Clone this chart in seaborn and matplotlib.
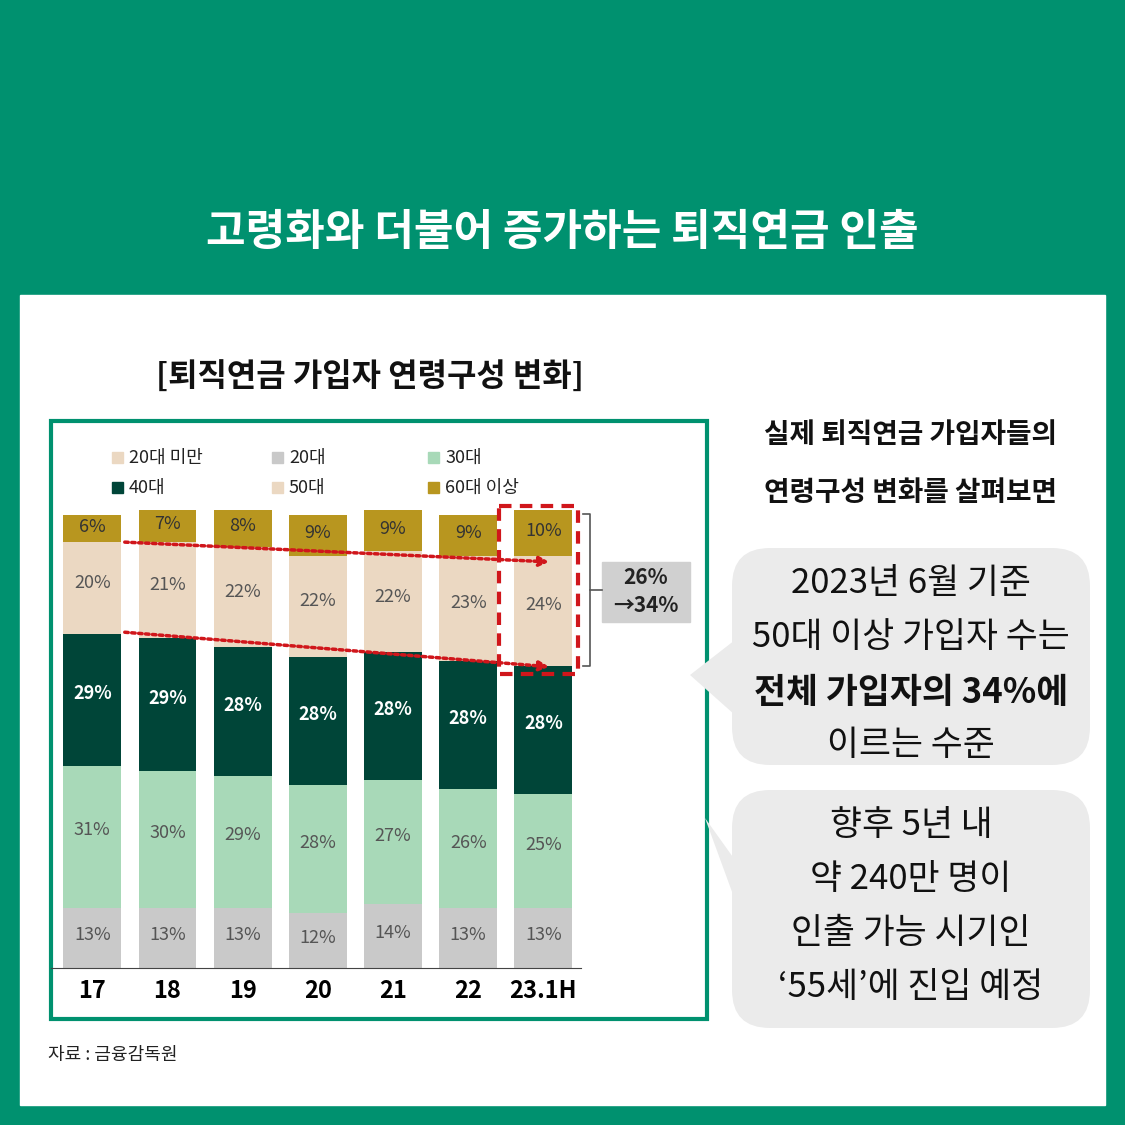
import matplotlib
matplotlib.use("Agg")
import matplotlib.pyplot as plt
import seaborn as sns
import pandas as pd
import numpy as np
from matplotlib.patches import Rectangle, FancyBboxPatch, Polygon

plt.rcParams["font.family"] = ["Noto Sans CJK JP", "Noto Sans CJK KR", "Noto Sans CJK SC", "DejaVu Sans"]

years = ["17", "18", "19", "20", "21", "22", "23.1H"]
age20 = [13, 13, 13, 12, 14, 13, 13]
age30 = [31, 30, 29, 28, 27, 26, 25]
age40 = [29, 29, 28, 28, 28, 28, 28]
age50 = [20, 21, 22, 22, 22, 23, 24]
age60 = [6, 7, 8, 9, 9, 9, 10]
series = [("20대", age20, "#C9C9C9", "#555555"),
          ("30대", age30, "#A8D9B8", "#555555"),
          ("40대", age40, "#004538", "white"),
          ("50대", age50, "#EBD8C2", "#555555"),
          ("60대 이상", age60, "#B8961F", "#333333")]

W = H = 1125
fig = plt.figure(figsize=(11.25, 11.25), dpi=100)
fig.patch.set_facecolor("#00916F")
bg = fig.add_axes([0, 0, 1, 1], zorder=0)
bg.set_xlim(0, W); bg.set_ylim(H, 0); bg.axis("off")

bg.add_patch(Rectangle((20, 295), 1085, 810, color="white"))
bg.text(562, 232, "고령화와 더불어 증가하는 퇴직연금 인출", color="white", fontsize=31,
        fontweight="bold", ha="center", va="center")
bg.text(370, 378, "[퇴직연금 가입자 연령구성 변화]", fontsize=23, fontweight="bold",
        ha="center", va="center", color="#111111")
bg.add_patch(Rectangle((51, 421), 656, 598, fill=False, ec="#00916F", lw=3))
bg.text(48, 1055, "자료 : 금융감독원", fontsize=13, va="center", color="#222222")

leg = [("20대 미만", "#EBD8C2", 112, 458), ("20대", "#C9C9C9", 272, 458), ("30대", "#A8D9B8", 428, 458),
       ("40대", "#004538", 112, 488), ("50대", "#EBD8C2", 272, 488), ("60대 이상", "#B8961F", 428, 488)]
for lab, c, x, y in leg:
    bg.add_patch(Rectangle((x, y - 6), 11, 11, color=c))
    bg.text(x + 17, y, lab, fontsize=13, va="center", color="#222222")

bg.text(910, 435, "실제 퇴직연금 가입자들의", fontsize=20, fontweight="bold", ha="center", va="center", color="#111111")
bg.text(910, 493, "연령구성 변화를 살펴보면", fontsize=20, fontweight="bold", ha="center", va="center", color="#111111")

def bubble(y0, y1, tip):
    bg.add_patch(FancyBboxPatch((732, y0), 358, y1 - y0, boxstyle="round,pad=0,rounding_size=38",
                                fc="#EBEBEB", ec="none"))
    bg.add_patch(Polygon(tip, closed=True, fc="#EBEBEB", ec="none"))
bubble(548, 765, [(735, 640), (690, 675), (735, 715)])
bubble(790, 1028, [(735, 860), (705, 818), (735, 900)])
for i, t in enumerate(["2023년 6월 기준", "50대 이상 가입자 수는"]):
    bg.text(911, 583 + 54 * i, t, fontsize=25, ha="center", va="center", color="#111111")
bg.text(911, 692, "전체 가입자의 34%에", fontsize=25, fontweight="bold", ha="center", va="center", color="#111111")
bg.text(911, 745, "이르는 수준", fontsize=25, ha="center", va="center", color="#111111")
for i, t in enumerate(["향후 5년 내", "약 240만 명이", "인출 가능 시기인", "‘55세’에 진입 예정"]):
    bg.text(911, 825 + 54 * i, t, fontsize=25, ha="center", va="center", color="#111111")

ax = fig.add_axes([51 / W, 1 - 968 / H, 530 / W, 458 / H], zorder=1)
ax.patch.set_alpha(0)
bottom = np.zeros(len(years))
for name, vals, c, tc in series:
    df = pd.DataFrame({"year": years, "v": vals})
    sns.barplot(data=df, x="year", y="v", order=years, bottom=bottom, color=c,
                width=0.77, ax=ax, saturation=1, linewidth=0)
    for i, v in enumerate(vals):
        ax.text(i, bottom[i] + v * 0.55, f"{v}%", ha="center", va="center", fontsize=13,
                color=tc, fontweight="bold" if tc == "white" else "normal")
    bottom = bottom + np.array(vals)
ax.set_ylim(0, 100)
ax.set_xlim(-0.55, 6.5)
ax.set_ylabel(""); ax.set_xlabel("")
ax.set_yticks([])
for s in ["top", "right", "left"]:
    ax.spines[s].set_visible(False)
ax.spines["bottom"].set_color("#444444")
ax.tick_params(axis="x", length=0, labelsize=17, pad=8)
for t in ax.get_xticklabels():
    t.set_fontweight("bold")

ov = fig.add_axes([0, 0, 1, 1], zorder=2)
ov.set_xlim(0, W); ov.set_ylim(H, 0); ov.axis("off")
ov.add_patch(Rectangle((499, 506), 79, 168, fill=False, ec="#D0161B", lw=3, ls=(0, (3, 2))))
for (x0, y0, x1, y1) in [(122, 542, 552, 562), (122, 632, 552, 667)]:
    ov.annotate("", xy=(x1, y1), xytext=(x0, y0),
                arrowprops=dict(arrowstyle="-|>", color="#D0161B", lw=2.5, ls=(0, (1, 1)),
                                mutation_scale=14))
ov.plot([583, 590, 590, 583], [514, 514, 666, 666], color="#555555", lw=1.2)
ov.plot([590, 602], [590, 590], color="#555555", lw=1.2)
ov.add_patch(Rectangle((602, 562), 88, 60, color="#D0D0D0"))
ov.text(646, 578, "26%", fontsize=15, fontweight="bold", ha="center", va="center", color="#222222")
ov.text(646, 605, "→34%", fontsize=15, fontweight="bold", ha="center", va="center", color="#222222")

fig.savefig("out.png", dpi=100, facecolor=fig.get_facecolor())
